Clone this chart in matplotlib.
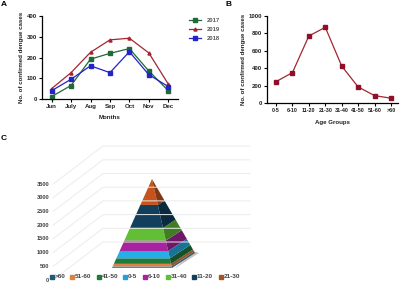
import numpy as np
import matplotlib
matplotlib.use('Agg')
import matplotlib.pyplot as plt
from matplotlib.patches import Polygon

plt.rcParams['font.family'] = ['Liberation Sans', 'DejaVu Sans']
plt.rcParams['font.weight'] = 'bold'
plt.rcParams['axes.labelweight'] = 'bold'

# Panel A
months = ['Jun', 'July', 'Aug', 'Sep', 'Oct', 'Nov', 'Dec']
cases_2017 = [12, 65, 192, 220, 243, 135, 40]
cases_2019 = [50, 127, 225, 285, 293, 222, 72]
cases_2018 = [40, 95, 160, 127, 228, 117, 60]

# Panel B
age_groups = ['0-5', '6-10', '11-20', '21-30', '31-40', '41-50', '51-60', '>60']
age_cases = [245, 350, 770, 870, 425, 185, 85, 55]

# Panel C, bottom to top of the pyramid
pyramid_groups = ['>60', '51-60', '41-50', '0-5', '6-10', '31-40', '11-20', '21-30']
pyramid_colors = ['#5b86a8', '#e0813f', '#1f7a3c', '#25aee8', '#a8239f', '#62bf35', '#123f5c', '#c4541b']
wall_levels = [0, 500, 1000, 1500, 2000, 2500, 3000, 3500]

W, H = 400, 283


def px_axes(left, top, right, bottom):
    return fig.add_axes([left / W, 1 - bottom / H, (right - left) / W, (bottom - top) / H])


def style(ax):
    ax.spines['top'].set_visible(False)
    ax.spines['right'].set_visible(False)
    ax.spines['left'].set_linewidth(0.9)
    ax.spines['bottom'].set_linewidth(0.9)
    ax.tick_params(labelsize=4.4, length=2, width=0.8, pad=1.5, labelcolor='#222222')


fig = plt.figure(figsize=(4, 2.83), dpi=100)

# A
ax_a = px_axes(41.5, 16, 178, 99)
x = np.arange(len(months))
ax_a.plot(x, cases_2017, color='#1e6b35', marker='s', ms=2.4, lw=0.9, label='2017', clip_on=False)
ax_a.plot(x, cases_2019, color='#a3262f', marker='^', ms=2.2, lw=0.9, label='2019', clip_on=False)
ax_a.plot(x, cases_2018, color='#2323c8', marker='s', ms=2.4, lw=0.9, label='2018', clip_on=False)
ax_a.set_xlim(-0.52, 6.5)
ax_a.set_ylim(0, 400)
ax_a.set_xticks(x, months)
ax_a.set_yticks([0, 100, 200, 300, 400])
ax_a.set_xlabel('Months', fontsize=4.4, labelpad=4.5, color='#222222')
ax_a.set_ylabel('No. of confirmed dengue cases', fontsize=4.4, labelpad=2, color='#222222')
style(ax_a)
ax_a.legend(loc='upper left', bbox_to_anchor=(1.08, 0.98), frameon=False, fontsize=4.2,
            handlelength=2.0, labelspacing=0.72, handletextpad=1.0, borderpad=0, borderaxespad=0,
            labelcolor='#555555')

# B
ax_b = px_axes(267, 16, 398, 103)
x_b = np.arange(len(age_groups))
ax_b.plot(x_b, age_cases, color='#a3262f', lw=0.9)
ax_b.plot(x_b, age_cases, color='#8f0f2a', marker='s', ms=3, lw=0, clip_on=False)
ax_b.set_xlim(-0.55, 7.43)
ax_b.set_ylim(0, 1000)
ax_b.set_xticks(x_b, age_groups)
ax_b.set_yticks([0, 200, 400, 600, 800, 1000])
ax_b.set_xlabel('Age Groups', fontsize=4.4, labelpad=5, color='#222222')
ax_b.set_ylabel('No. of confirmed dengue cases', fontsize=4.4, labelpad=2, color='#222222')
style(ax_b)
ax_b.tick_params(axis='x', labelsize=3.9)

# C, a hand made 3D view in pixel coordinates
ax_c = fig.add_axes([0, 0, 1, 1], zorder=-1)
ax_c.set_xlim(0, W)
ax_c.set_ylim(H, 0)
ax_c.axis('off')

for level in wall_levels:
    back = 242 - level * 0.0274
    ax_c.plot([53, 103, 250], [back + 38, back, back], color='#ececec', lw=0.7)
    ax_c.text(49, back + 38, str(level), ha='right', va='center', fontsize=4.1, color='#444444')

apex = np.array([152.0, 179.0])
front_left = np.array([112.0, 268.0])
front_right = np.array([172.0, 268.0])
back_right = np.array([195.0, 253.0])

ax_c.add_patch(Polygon([front_right + [2, 1], back_right + [4, 0], back_right - [2, 2]],
                       color='#c4c4c4', lw=0))

total = sum(age_cases)
values = [age_cases[age_groups.index(g)] for g in pyramid_groups]
tops = np.cumsum(values) / total
bottoms = tops - np.array(values) / total


def along(corner, t):
    return corner + (apex - corner) * t


def darker(color, f=0.66):
    return tuple(c * f for c in matplotlib.colors.to_rgb(color))


for b, t, color in zip(bottoms, tops, pyramid_colors):
    ax_c.add_patch(Polygon([along(front_left, b), along(front_right, b),
                            along(front_right, t), along(front_left, t)],
                           facecolor=color, lw=0))
    ax_c.add_patch(Polygon([along(front_right, b), along(back_right, b),
                            along(back_right, t), along(front_right, t)],
                           facecolor=darker(color), lw=0))

legend_x = [52, 72, 99, 125, 145, 168, 194, 221]
legend_colors = ['#1f5a7d', '#e0813f', '#1f7a3c', '#25a0dd', '#a8239f', '#62bf35', '#123f5c', '#a8521f']
for lx, group, color in zip(legend_x, pyramid_groups, legend_colors):
    ax_c.plot([lx], [277], marker='s', ms=2.2, color=color, lw=0)
    ax_c.text(lx + 3, 277, group, ha='left', va='center', fontsize=4.6, color='#444444')

ax_c.text(1, 4, 'A', fontsize=6, fontweight='bold', ha='left', va='center')
ax_c.text(225, 4, 'B', fontsize=6, fontweight='bold', ha='left', va='center')
ax_c.text(1, 139, 'C', fontsize=6, fontweight='bold', ha='left', va='center')

fig.savefig('out.png', dpi=100)
